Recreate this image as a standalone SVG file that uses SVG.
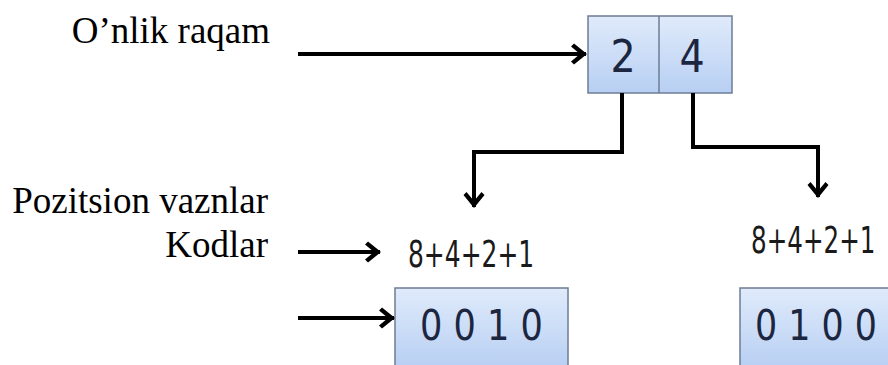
<svg xmlns="http://www.w3.org/2000/svg" width="888" height="365" viewBox="0 0 888 365">
<style>
.box{fill:url(#g);stroke:#6d7c94;stroke-width:1.5}
.dig{font-family:"DejaVu Sans Condensed","Liberation Sans",sans-serif;fill:#1c2640}
.wt{font-family:"DejaVu Sans Condensed","Liberation Sans",sans-serif;fill:#1a1a1a}
.ln{fill:none;stroke:#000;stroke-width:4;marker-end:url(#ah)}
.lbl{font-family:"Times New Roman",Times,"Liberation Serif",Tinos,"Nimbus Roman","DejaVu Serif","Noto Serif",serif;font-size:37px;text-anchor:end;fill:#000}
</style>
<defs>
<linearGradient id="g" x1="0" y1="0" x2="0" y2="1">
<stop offset="0" stop-color="#e0ebfb"/>
<stop offset="1" stop-color="#b7cff3"/>
</linearGradient>
<marker id="ah" viewBox="-17 -12 19 24" refX="0" refY="0" markerWidth="19" markerHeight="24" markerUnits="userSpaceOnUse" orient="auto">
<path d="M1,0 L-12,-10.5 L-15,-7.5 L-6,0 L-15,7.5 L-12,10.5 Z" fill="#000"/>
</marker>
</defs>
<rect width="888" height="365" fill="#fff"/>
<g id="labels">
<text class="lbl" x="270" y="43">O’nlik raqam</text>
<text class="lbl" x="268" y="213">Pozitsion vaznlar</text>
<text class="lbl" x="268" y="257">Kodlar</text>
</g>
<g id="top-box">
<rect class="box" x="588" y="16" width="144" height="77"/>
<line x1="659" y1="16" x2="659" y2="93" stroke="#6d7c94" stroke-width="1.5"/>
<text class="dig" x="623" y="72" font-size="44" text-anchor="middle">2</text>
<text class="dig" x="692" y="72" font-size="44" text-anchor="middle">4</text>
</g>
<g id="weights-left">
<text class="wt" font-size="38" transform="translate(408,267) scale(0.73,1)">8+4+2+1</text>
</g>
<g id="weights-right">
<text class="wt" font-size="38" transform="translate(751,253) scale(0.72,1)">8+4+2+1</text>
</g>
<g id="code-left">
<rect class="box" x="395" y="288" width="173" height="80"/>
<text class="dig" x="420" y="340" font-size="42" textLength="123" lengthAdjust="spacingAndGlyphs">0 0 1 0</text>
</g>
<g id="code-right">
<rect class="box" x="740" y="288" width="150" height="80"/>
<text class="dig" x="755" y="340" font-size="42" textLength="122" lengthAdjust="spacingAndGlyphs">0 1 0 0</text>
</g>
<g id="connectors">
<path class="ln" d="M298,54 H586"/>
<path class="ln" d="M622,93 V152 H474 V207"/>
<path class="ln" d="M693,93 V147 H818 V197"/>
<path class="ln" d="M298,252 H380"/>
<path class="ln" d="M298,318 H394"/>
</g>
</svg>
